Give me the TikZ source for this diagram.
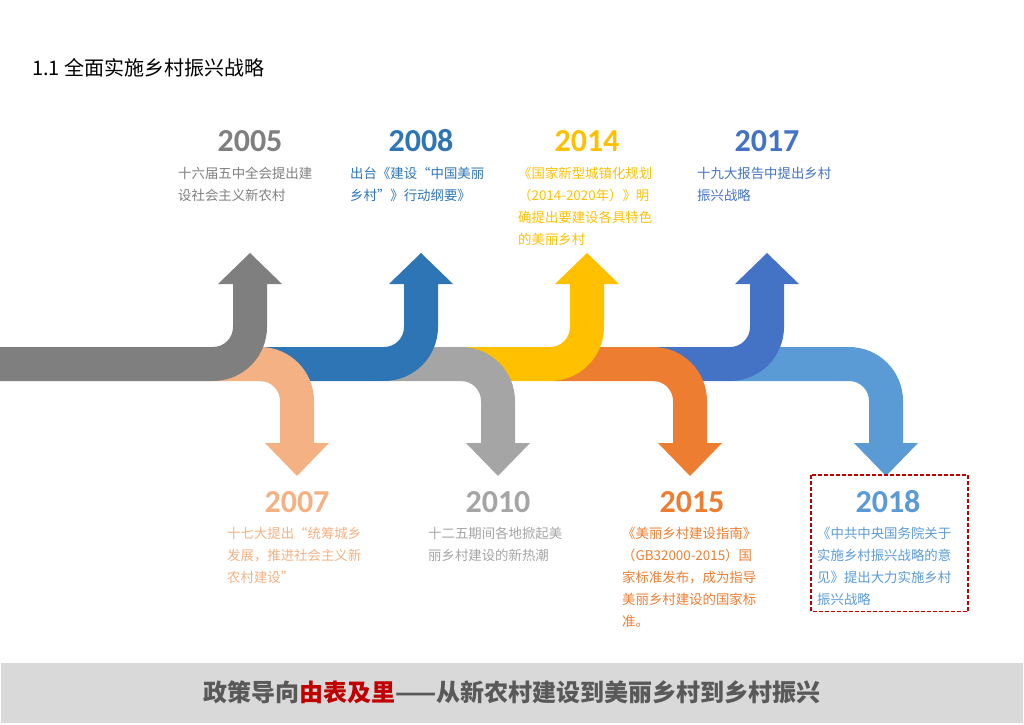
\documentclass[tikz,border=0pt]{standalone}
\usepackage{fontspec}
\setmainfont{Noto Sans CJK SC}
\newfontfamily\yearfont{Carlito}
\newfontfamily\cjkfont{Noto Sans CJK SC}
\definecolor{cA}{HTML}{7F7F7F}
\definecolor{cB}{HTML}{F4B183}
\definecolor{cC}{HTML}{2E75B6}
\definecolor{cD}{HTML}{A5A5A5}
\definecolor{cE}{HTML}{FFC000}
\definecolor{cF}{HTML}{ED7D31}
\definecolor{cG}{HTML}{4472C4}
\definecolor{cH}{HTML}{5B9BD5}
\definecolor{bannergray}{HTML}{D9D9D9}
\definecolor{bannertext}{HTML}{595959}
\definecolor{darkred}{HTML}{C00000}
\newcommand{\uparrowshape}[3]{% color, start x, curve center x
  \fill[#1] (#2,377) -- (#3,377) arc[start angle=-90,end angle=0,radius=20]
    -- (#3+20,440) -- (#3+5,440) -- (#3+37,471) -- (#3+69,440) -- (#3+54,440)
    -- (#3+54,397) arc[start angle=0,end angle=-90,radius=54]
    -- (#2,343) -- cycle;}
\newcommand{\downarrowshape}[3]{% color, start x, curve center x
  \fill[#1] (#2,377) -- (#3,377) arc[start angle=90,end angle=0,radius=54]
    -- (#3+54,281) -- (#3+69,281) -- (#3+37,248) -- (#3+5,281) -- (#3+20,281)
    -- (#3+20,323) arc[start angle=0,end angle=90,radius=20]
    -- (#2,343) -- cycle;}
\newcommand{\desc}[1]{\begin{tabular}[t]{@{}l@{}}#1\end{tabular}}
\begin{document}
\begin{tikzpicture}[x=1pt,y=1pt,
  year/.style={anchor=base,inner sep=0,font=\yearfont\bfseries\fontsize{32}{32}\selectfont},
  info/.style={anchor=base west,inner sep=0,font=\cjkfont\fontsize{13.4}{22}\selectfont},
  ]
\useasboundingbox (0,0) rectangle (1024,724);
% title
\node[anchor=base west,inner sep=0,font=\cjkfont\fontsize{20}{20}\selectfont] (title) at (32,648.5) {1.1 全面实施乡村振兴战略};
% arrows, back to front
\downarrowshape{cH}{730}{849}
\uparrowshape{cG}{653}{730}
\downarrowshape{cF}{550}{653}
\uparrowshape{cE}{461}{550}
\downarrowshape{cD}{384}{461}
\uparrowshape{cC}{260}{384}
\downarrowshape{cB}{213}{260}
\uparrowshape{cA}{0}{213}
% years
\node[year,text=cA] (y2005) at (250,572) {2005};
\node[year,text=cC] (y2008) at (421,572) {2008};
\node[year,text=cE] (y2014) at (587,572) {2014};
\node[year,text=cG] (y2017) at (767,572) {2017};
\node[year,text=cB] (y2007) at (297,212) {2007};
\node[year,text=cD] (y2010) at (498,212) {2010};
\node[year,text=cF] (y2015) at (692,212) {2015};
\node[year,text=cH] (y2018) at (888,212) {2018};
% descriptions
\node[info,text=cA] (d2005) at (178,545) {\desc{十六届五中全会提出建\\设社会主义新农村}};
\node[info,text=cC] (d2008) at (350,545) {\desc{出台《建设“中国美丽\\乡村”》行动纲要》}};
\node[info,text=cE] (d2014) at (518,545) {\desc{《国家新型城镇化规划\\（2014-2020年）》明\\确提出要建设各具特色\\的美丽乡村}};
\node[info,text=cG] (d2017) at (697,545) {\desc{十九大报告中提出乡村\\振兴战略}};
\node[info,text=cB] (d2007) at (227,186) {\desc{十七大提出“统筹城乡\\发展，推进社会主义新\\农村建设”}};
\node[info,text=cD] (d2010) at (428,186) {\desc{十二五期间各地掀起美\\丽乡村建设的新热潮}};
\node[info,text=cF] (d2015) at (622,186) {\desc{《美丽乡村建设指南》\\（GB32000-2015）国\\家标准发布，成为指导\\美丽乡村建设的国家标\\准。}};
\node[info,text=cH] (d2018) at (817,186) {\desc{《中共中央国务院关于\\实施乡村振兴战略的意\\见》提出大力实施乡村\\振兴战略}};
% highlight box
\draw[darkred,line width=1.5pt,dash pattern=on 4pt off 2pt] (811,249) rectangle (968,112.5);
% banner
\fill[bannergray] (1,1) rectangle (1023,61);
\node[inner sep=0,font=\cjkfont\bfseries\fontsize{24}{24}\selectfont,text=bannertext] (banner) at (512,32) {政策导向\textcolor{darkred}{由表及里}——从新农村建设到美丽乡村到乡村振兴};
\end{tikzpicture}
\end{document}
